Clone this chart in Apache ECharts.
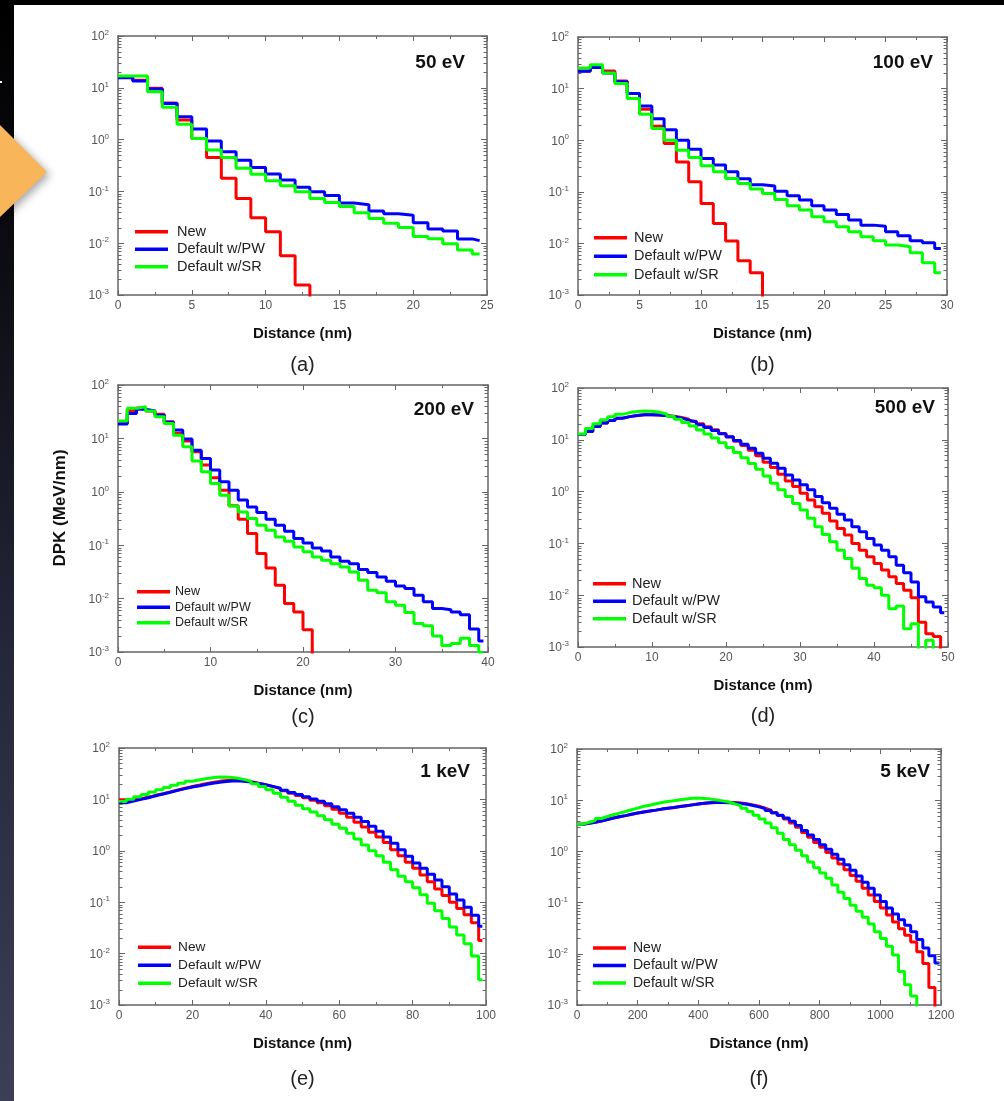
<!DOCTYPE html>
<html><head><meta charset="utf-8">
<script src="https://cdn.jsdelivr.net/npm/echarts@6/dist/echarts.min.js"></script>
<style>
html,body{margin:0;padding:0;background:#000;overflow:hidden;}
#strip{position:absolute;left:0;top:0;width:14px;height:1101px;background:linear-gradient(#000 0%,#0d0d14 25%,#25273a 60%,#3c3f56 100%);}
#bg{position:absolute;left:14px;top:5px;width:990px;height:1096px;background:#fff;}
#chart{position:absolute;left:0;top:0;width:1004px;height:1101px;}
</style></head><body>
<div id="strip"></div><div id="bg"></div><div id="chart"></div>
<script>
const NAMES = ['New', 'Default w/PW', 'Default w/SR'];
const COLORS = ['#ff0000', '#0000ff', '#00ff00'];
const Y_MINOR = [0.002,0.003,0.004,0.005,0.006,0.007,0.008,0.009,
  0.02,0.03,0.04,0.05,0.06,0.07,0.08,0.09,
  0.2,0.3,0.4,0.5,0.6,0.7,0.8,0.9,
  2,3,4,5,6,7,8,9,
  20,30,40,50,60,70,80,90];

// (a) 50 eV, 1 nm bins
const A_BIN = 1, A_END = 24.5;
const A_NEW = [16,14,9.8,5.1,2.4,1.05,0.45,0.18,0.073,0.031,0.0167,0.0057,0.00156,0.00001];
const A_PW = [15.7,13.5,9.5,5.0,2.77,1.6,0.94,0.585,0.40,0.29,0.217,0.166,0.12,0.099,0.083,0.060,0.0555,0.0419,0.0372,0.0345,0.0249,0.0188,0.0172,0.0121,0.0112];
const A_SR = [16.9,16.9,8.4,4.2,1.97,1.05,0.63,0.45,0.28,0.214,0.161,0.129,0.098,0.073,0.061,0.051,0.0388,0.030,0.0242,0.0202,0.0134,0.0122,0.0098,0.0074,0.0062];

// (b) 100 eV, 1 nm bins
const B_BIN = 1, B_END = 29.5;
const B_NEW = [22,26,22,14,8.0,4.0,1.87,0.86,0.38,0.156,0.059,0.0244,0.0111,0.0046,0.0027,0.00001];
const B_PW = [21.6,25.5,20,13.5,8.0,4.6,2.6,1.6,1.0,0.67,0.44,0.33,0.244,0.18,0.137,0.129,0.103,0.0837,0.069,0.0536,0.0442,0.0364,0.0283,0.0226,0.0216,0.0168,0.0141,0.0113,0.0103,0.008];
const B_SR = [25,29,20,12.5,6.4,3.2,1.68,1.0,0.64,0.46,0.32,0.244,0.181,0.145,0.113,0.093,0.071,0.0536,0.0442,0.0328,0.0262,0.021,0.0168,0.0135,0.0113,0.0093,0.0086,0.0066,0.0042,0.0027];

// (c) 200 eV, 1 nm bins
const C_BIN = 1, C_END = 39.5;
const C_NEW = [19,33,37,32.5,28.2,20.5,12.5,8.9,5.6,3.16,1.83,1.07,0.546,0.307,0.166,0.0698,0.0376,0.0178,0.0081,0.0056,0.0026,0.00001];
const C_PW = [18.6,29.4,35,32.5,27,20,14.3,9.7,6.0,4.2,2.55,1.54,1.07,0.70,0.52,0.41,0.307,0.237,0.183,0.133,0.11,0.089,0.078,0.060,0.050,0.045,0.035,0.0307,0.0255,0.0211,0.0173,0.0154,0.0115,0.0087,0.0065,0.0062,0.0056,0.005,0.0027,0.0016];
const C_SR = [21.1,36.5,39.2,32.5,25.5,19,11.5,7.0,3.76,2.37,1.43,0.866,0.54,0.42,0.316,0.237,0.19,0.143,0.119,0.093,0.075,0.06,0.052,0.045,0.039,0.0316,0.022,0.0143,0.0129,0.0087,0.0075,0.0055,0.0034,0.0031,0.002,0.00133,0.00145,0.0018,0.00133,0.00098];

// (d) 500 eV, 1 nm bins
const D_BIN = 1, D_END = 49.5;
const D_NEW = [12.6,14.5,18,21,23.7,26,28,29.5,30.3,30.5,30.2,29.5,28.6,27,25,22.8,20.3,17.9,15.6,13.3,11.3,9.4,7.8,6.3,4.9,3.7,2.92,2.16,1.61,1.25,0.93,0.69,0.51,0.38,0.27,0.195,0.145,0.1,0.074,0.055,0.041,0.0305,0.0226,0.0168,0.0125,0.0089,0.003,0.0018,0.0016,0.00001];
const D_PW = [12.6,14.5,18,21,23.7,26,28,29.5,30.3,30.5,30,29,28,26.2,24,22,19.5,17.3,15.2,13.1,11.4,9.7,8.2,6.9,5.5,4.4,3.53,2.83,2.1,1.68,1.35,1.08,0.8,0.61,0.475,0.364,0.283,0.21,0.168,0.125,0.093,0.074,0.055,0.038,0.027,0.018,0.0093,0.0074,0.0059,0.0046];
const D_SR = [12.9,16.5,20.5,24.5,28,31,33.5,35,36,35.5,34,31.5,28.5,25,21.5,18.5,15.5,13,10.8,8.8,7.1,5.7,4.5,3.5,2.7,2.0,1.45,1.08,0.8,0.59,0.44,0.305,0.21,0.149,0.108,0.074,0.051,0.033,0.021,0.0156,0.0139,0.01,0.0055,0.0062,0.00226,0.0028,0.00001,0.00135,0.00001,0.00001];

// (e) 1 keV, 2 nm bins
const E_BIN = 2, E_END = 99;
const E_NEW = [9.8,9.7,10.3,11.0,12.0,12.9,14.0,15.2,16.5,17.8,19.0,20.3,21.6,22.8,23.5,23.5,23.0,22.0,20.6,19.2,17.7,16.2,14.7,13.2,11.9,10.8,9.6,8.6,7.5,6.4,5.4,4.5,3.6,2.9,2.3,1.85,1.45,1.05,0.8,0.6,0.46,0.34,0.25,0.18,0.135,0.1,0.075,0.057,0.04,0.018];
const E_PW = [8.6,9.3,10.0,10.8,11.8,12.7,13.8,15.0,16.2,17.4,18.5,19.7,20.8,21.8,22.5,23.0,22.6,21.8,20.5,19.2,17.9,16.5,15.0,13.6,12.4,11.3,10.2,9.2,8.2,7.2,6.3,5.4,4.5,3.7,3.0,2.4,1.85,1.4,1.05,0.78,0.58,0.46,0.35,0.27,0.2,0.145,0.11,0.08,0.056,0.034];
const E_SR = [9.1,10.1,11.2,12.5,13.9,15.4,17.0,18.8,20.6,22.6,24.2,25.5,26.6,27.2,27.0,26.0,24.5,22.5,20.2,17.8,15.4,13.2,11.0,9.2,7.7,6.6,5.7,4.8,4.0,3.3,2.75,2.2,1.7,1.3,1.0,0.8,0.6,0.43,0.32,0.25,0.19,0.14,0.095,0.068,0.048,0.033,0.023,0.0155,0.009,0.0031];

// (f) 5 keV, 20 nm bins
const F_BIN = 20, F_END = 1195;
const F_NEW = [3.4,3.55,3.7,3.9,4.2,4.5,4.75,5.0,5.3,5.6,5.9,6.15,6.4,6.7,6.95,7.2,7.5,7.8,8.1,8.4,8.7,8.95,9.1,9.15,9.1,9.0,8.8,8.5,8.1,7.6,7.0,6.4,5.7,5.0,4.3,3.6,2.95,2.35,1.9,1.5,1.2,0.95,0.74,0.57,0.44,0.34,0.26,0.19,0.14,0.105,0.078,0.057,0.042,0.031,0.023,0.017,0.011,0.0065,0.0022,0.00001];
const F_PW = [3.4,3.55,3.7,3.9,4.2,4.5,4.75,5.0,5.3,5.6,5.9,6.15,6.4,6.7,6.95,7.2,7.5,7.8,8.1,8.4,8.7,8.9,9.0,9.0,8.9,8.8,8.6,8.3,7.9,7.4,6.9,6.3,5.7,5.1,4.5,3.9,3.2,2.55,2.1,1.7,1.35,1.1,0.88,0.7,0.55,0.43,0.33,0.25,0.19,0.14,0.105,0.078,0.06,0.046,0.036,0.027,0.019,0.013,0.0092,0.0066];
const F_SR = [3.4,3.7,4.0,4.4,4.8,5.2,5.6,6.0,6.5,7.0,7.6,8.0,8.5,9.0,9.4,9.8,10.2,10.6,10.9,11.0,10.8,10.5,10.1,9.7,9.2,8.5,7.8,7.0,6.0,5.1,4.3,3.6,2.9,2.25,1.7,1.35,1.05,0.82,0.62,0.48,0.38,0.3,0.22,0.16,0.12,0.089,0.068,0.052,0.038,0.027,0.02,0.014,0.0095,0.0045,0.0025,0.0015,0.00001,0.00001,0.00001,0.00001];

const FONT = "'Liberation Sans', Arial, Helvetica, sans-serif";
const AX = '#666';

const panels = [
  {grid:{left:118,top:36,width:369,height:259}, xMax:25, xInt:5, bin:A_BIN, end:A_END, vals:[A_NEW,A_PW,A_SR],
   energy:'50 eV', ex:465, ey:63, tag:'(a)', ty:365, lg:{left:135,top:224,gap:2,fs:14.5,tp:4}},
  {grid:{left:578,top:37,width:369,height:258}, xMax:30, xInt:5, bin:B_BIN, end:B_END, vals:[B_NEW,B_PW,B_SR],
   energy:'100 eV', ex:933, ey:63, tag:'(b)', ty:365, lg:{left:594,top:230,gap:3,fs:14.5,tp:2}},
  {grid:{left:118,top:385,width:370,height:267}, xMax:40, xInt:10, bin:C_BIN, end:C_END, vals:[C_NEW,C_PW,C_SR],
   energy:'200 eV', ex:474, ey:410, tag:'(c)', ty:717, lg:{left:137,top:585,gap:2,fs:12.5,tp:0}},
  {grid:{left:578,top:388,width:370,height:259}, xMax:50, xInt:10, bin:D_BIN, end:D_END, vals:[D_NEW,D_PW,D_SR],
   energy:'500 eV', ex:935, ey:408, tag:'(d)', ty:716, lg:{left:593,top:576,gap:2,fs:14.5,tp:1}},
  {grid:{left:119,top:748,width:367,height:257}, xMax:100, xInt:20, bin:E_BIN, end:E_END, vals:[E_NEW,E_PW,E_SR],
   energy:'1 keV', ex:470, ey:772, tag:'(e)', ty:1079, lg:{left:138,top:940,gap:3.3,fs:13.7,tp:2}},
  {grid:{left:577,top:749,width:364,height:256}, xMax:1200, xInt:200, bin:F_BIN, end:F_END, vals:[F_NEW,F_PW,F_SR],
   energy:'5 keV', ex:930, ey:772, tag:'(f)', ty:1079, lg:{left:593,top:940.5,gap:2.5,fs:14,tp:2}}
];

const option = {animation:false, backgroundColor:'transparent', grid:[], xAxis:[], yAxis:[], series:[], legend:[], graphic:[]};

function txt(text, x, y, opts) {
  return Object.assign({type:'text', x:x, y:y, z:100, silent:true,
    style:Object.assign({text:text, fontFamily:FONT, fill:'#111', align:'center', verticalAlign:'middle',
      textAlign:'center', textVerticalAlign:'middle'}, opts.style || {})}, opts.el || {});
}

panels.forEach((p, k) => {
  option.grid.push(Object.assign({containLabel:false}, p.grid));
  const xBase = {type:'value', gridIndex:k, min:0, max:p.xMax, interval:p.xInt,
    axisLine:{show:true, onZero:false, lineStyle:{color:AX, width:1.5}},
    axisTick:{show:true, inside:true, length:5, lineStyle:{color:AX, width:1}},
    minorTick:{show:true, splitNumber:2, length:3, lineStyle:{color:AX, width:1}},
    splitLine:{show:false}, minorSplitLine:{show:false}};
  option.xAxis.push(Object.assign({}, xBase, {position:'bottom',
    axisLabel:{color:'#555', fontSize:12, margin:5, fontFamily:FONT, formatter: v => String(v)},
    name:'Distance (nm)', nameLocation:'middle', nameGap:31,
    nameTextStyle:{color:'#111', fontSize:15, fontWeight:'bold', fontFamily:FONT}}));
  option.xAxis.push(Object.assign({}, xBase, {position:'top', axisLabel:{show:false}}));
  const yBase = {type:'log', logBase:10, gridIndex:k, min:0.001, max:100,
    axisLine:{show:true, onZero:false, lineStyle:{color:AX, width:1.5}},
    axisTick:{show:true, inside:true, length:6, lineStyle:{color:AX, width:1}},
    splitLine:{show:false}};
  option.yAxis.push(Object.assign({}, yBase, {position:'left',
    axisLabel:{margin:9, formatter: v => '{b|10}{s|' + Math.round(Math.log10(v)) + '}',
      rich:{b:{fontSize:12, color:'#555', fontFamily:FONT, lineHeight:14, verticalAlign:'bottom'},
            s:{fontSize:8, color:'#555', fontFamily:FONT, lineHeight:14, verticalAlign:'top'}}}}));
  option.yAxis.push(Object.assign({}, yBase, {position:'right', axisLabel:{show:false}}));

  p.vals.forEach((arr, s) => {
    const data = arr.map((v, i) => [i * p.bin, v]);
    data.push([p.end, arr[arr.length - 1]]);
    option.series.push({type:'line', name:NAMES[s], xAxisIndex:2*k, yAxisIndex:2*k, data:data,
      step:'end', symbol:'none', showSymbol:false, clip:true, silent:true, z:2+s,
      lineStyle:{color:COLORS[s], width:3}, itemStyle:{color:COLORS[s]}});
  });
  option.series.push({type:'custom', name:'minor', xAxisIndex:2*k, yAxisIndex:2*k, silent:true, z:10, clip:false,
    data:Y_MINOR.map(v => [0, v]),
    renderItem:(params, api) => {
      const cs = params.coordSys;
      const y = Math.round(api.coord([api.value(0), api.value(1)])[1]) + 0.5;
      const st = {stroke:AX, lineWidth:1};
      return {type:'group', children:[
        {type:'line', shape:{x1:cs.x, y1:y, x2:cs.x + 3.5, y2:y}, style:st},
        {type:'line', shape:{x1:cs.x + cs.width - 3.5, y1:y, x2:cs.x + cs.width, y2:y}, style:st}
      ]};
    }});
  option.legend.push({data:NAMES, orient:'vertical', left:p.lg.left, top:p.lg.top, padding:0,
    icon:'rect', itemWidth:33, itemHeight:3.5, itemGap:p.lg.gap, selectedMode:false,
    textStyle:{fontSize:p.lg.fs, color:'#222', fontFamily:FONT, lineHeight:p.lg.fs + 1, padding:[0,0,0,p.lg.tp]}});
  option.graphic.push(txt(p.energy, p.ex, p.ey, {style:{fontSize:19, fontWeight:'bold', align:'right', textAlign:'right'}}));
  const cx = p.grid.left + p.grid.width / 2;
  option.graphic.push(txt(p.tag, cx, p.ty, {style:{fontSize:20, fill:'#222'}}));
});

option.graphic.push(txt('DPK (MeV/nm)', 60, 508, {style:{fontSize:17, fontWeight:'bold'}, el:{rotation:Math.PI / 2}}));
option.graphic.push({type:'polygon', z:100, silent:true, shape:{points:[[0,125],[47,172],[0,217]]},
  style:{fill:'#F9B55A', shadowBlur:8, shadowColor:'rgba(0,0,0,0.35)', shadowOffsetX:3, shadowOffsetY:3}});
option.graphic.push({type:'rect', z:100, silent:true, shape:{x:0, y:81, width:2, height:2}, style:{fill:'#fff'}});

const chart = echarts.init(document.getElementById('chart'), null, {renderer:'canvas'});
chart.setOption(option);
</script></body></html>
